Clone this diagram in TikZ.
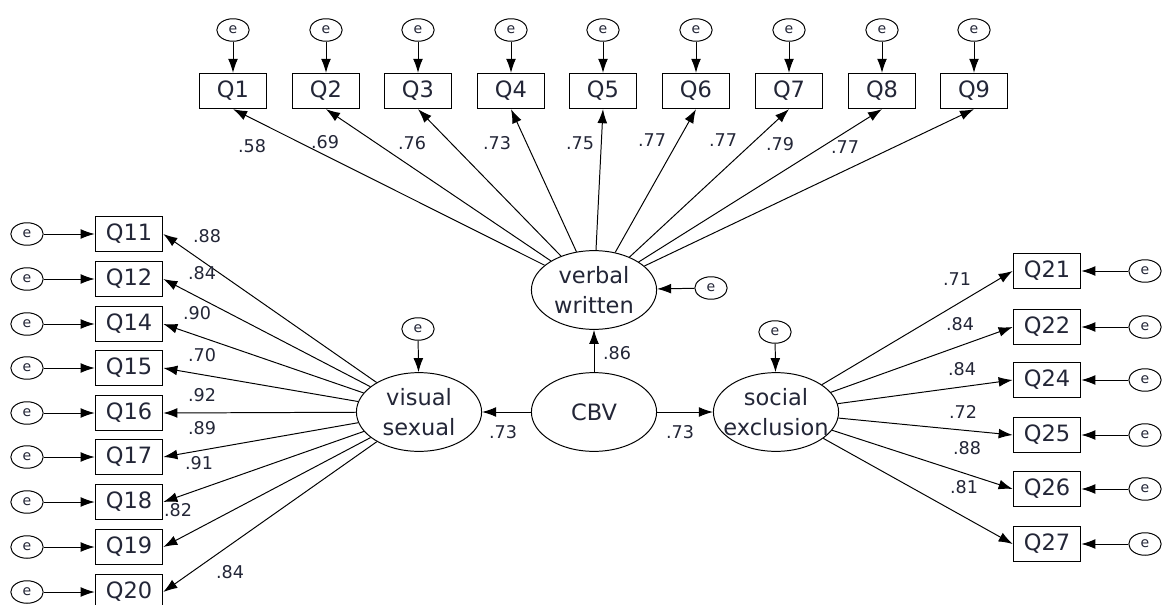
\documentclass[tikz,border=0pt]{standalone}
\usepackage{fontspec}
\setmainfont{DejaVu Sans}
\usetikzlibrary{shapes.geometric, arrows.meta}

\definecolor{txt}{RGB}{35,38,55}
\tikzset{
  item/.style={draw, rectangle, line width=0.8pt, minimum width=48pt, minimum height=25pt, inner sep=0pt, text=txt, font=\fontsize{16}{19}\selectfont},
  err/.style={draw, ellipse, line width=0.7pt, minimum width=23pt, minimum height=16pt, inner sep=0pt, text=txt, font=\fontsize{10}{12}\selectfont},
  factor/.style={draw, ellipse, line width=0.7pt, minimum width=89pt, minimum height=56pt, inner xsep=-20pt, inner ysep=0pt, align=center, text=txt, font=\fontsize{16}{21}\selectfont},
  load/.style={text=txt, inner sep=0pt, font=\fontsize{12.5}{14}\selectfont},
  arr/.style={line width=0.7pt, -{Latex[length=10pt,width=7pt]}}
}

\begin{document}
\begin{tikzpicture}[x=0.025cm, y=-0.025cm]
\useasboundingbox (0,0) rectangle (1162,604);

% factors
\node[factor] (vw) at (594,290) {verbal\\written};
\node[factor] (cbv) at (594,412) {CBV};
\node[factor] (vs) at (419,412) {visual\\sexual};
\node[factor] (se) at (776,412) {social\\exclusion};
\node[err] (evw) at (711,288) {e};
\node[err] (evs) at (418,329) {e};
\node[err] (ese) at (775,332) {e};

\draw[arr] (cbv) -- (vw);
\draw[arr] (cbv) -- (vs);
\draw[arr] (cbv) -- (se);
\draw[arr] (evw) -- (vw);
\draw[arr] (evs) -- (vs);
\draw[arr] (ese) -- (se);
\node[load] (lvw) at (617,353) {.86};
\node[load] (lvs) at (503,432) {.73};
\node[load] (lse) at (680,432) {.73};

% verbal written items
\node[item] (q1) at (233,91) {Q1};
\node[item] (q2) at (326,91) {Q2};
\node[item] (q3) at (418,91) {Q3};
\node[item] (q4) at (511,91) {Q4};
\node[item] (q5) at (603,91) {Q5};
\node[item] (q6) at (696,91) {Q6};
\node[item] (q7) at (789,91) {Q7};
\node[item] (q8) at (882,91) {Q8};
\node[item] (q9) at (974,91) {Q9};
\node[err] (e1) at (233,30) {e};
\node[err] (e2) at (326,30) {e};
\node[err] (e3) at (418,30) {e};
\node[err] (e4) at (511,30) {e};
\node[err] (e5) at (603,30) {e};
\node[err] (e6) at (696,30) {e};
\node[err] (e7) at (789,30) {e};
\node[err] (e8) at (882,30) {e};
\node[err] (e9) at (974,30) {e};
\draw[arr] (e1) -- (q1);
\draw[arr] (e2) -- (q2);
\draw[arr] (e3) -- (q3);
\draw[arr] (e4) -- (q4);
\draw[arr] (e5) -- (q5);
\draw[arr] (e6) -- (q6);
\draw[arr] (e7) -- (q7);
\draw[arr] (e8) -- (q8);
\draw[arr] (e9) -- (q9);
\draw[arr] (vw) -- (q1.south);
\draw[arr] (vw) -- (q2.south);
\draw[arr] (vw) -- (q3.south);
\draw[arr] (vw) -- (q4.south);
\draw[arr] (vw) -- (q5.south);
\draw[arr] (vw) -- (q6.south);
\draw[arr] (vw) -- (q7.south);
\draw[arr] (vw) -- (q8.south);
\draw[arr] (vw) -- (q9.south);
\node[load] (l1) at (252,146) {.58};
\node[load] (l2) at (325,142) {.69};
\node[load] (l3) at (412,143) {.76};
\node[load] (l4) at (497,143) {.73};
\node[load] (l5) at (580,143) {.75};
\node[load] (l6) at (652,140) {.77};
\node[load] (l7) at (723,140) {.77};
\node[load] (l8) at (780,144) {.79};
\node[load] (l9) at (845,147) {.77};

% visual sexual items
\node[item] (q11) at (129,234) {Q11};
\node[item] (q12) at (129,279) {Q12};
\node[item] (q14) at (129,324) {Q14};
\node[item] (q15) at (129,368) {Q15};
\node[item] (q16) at (129,413) {Q16};
\node[item] (q17) at (129,457) {Q17};
\node[item] (q18) at (129,502) {Q18};
\node[item] (q19) at (129,547) {Q19};
\node[item] (q20) at (129,592) {Q20};
\node[err] (e11) at (27,234) {e};
\node[err] (e12) at (27,279) {e};
\node[err] (e14) at (27,324) {e};
\node[err] (e15) at (27,368) {e};
\node[err] (e16) at (27,413) {e};
\node[err] (e17) at (27,457) {e};
\node[err] (e18) at (27,502) {e};
\node[err] (e19) at (27,547) {e};
\node[err] (e20) at (27,592) {e};
\draw[arr] (e11) -- (q11);
\draw[arr] (e12) -- (q12);
\draw[arr] (e14) -- (q14);
\draw[arr] (e15) -- (q15);
\draw[arr] (e16) -- (q16);
\draw[arr] (e17) -- (q17);
\draw[arr] (e18) -- (q18);
\draw[arr] (e19) -- (q19);
\draw[arr] (e20) -- (q20);
\draw[arr] (vs) -- (q11.east);
\draw[arr] (vs) -- (q12.east);
\draw[arr] (vs) -- (q14.east);
\draw[arr] (vs) -- (q15.east);
\draw[arr] (vs) -- (q16.east);
\draw[arr] (vs) -- (q17.east);
\draw[arr] (vs) -- (q18.east);
\draw[arr] (vs) -- (q19.east);
\draw[arr] (vs) -- (q20.east);
\node[load] (l11) at (207,236) {.88};
\node[load] (l12) at (202,273) {.84};
\node[load] (l14) at (197,313) {.90};
\node[load] (l15) at (202,355) {.70};
\node[load] (l16) at (202,395) {.92};
\node[load] (l17) at (202,428) {.89};
\node[load] (l18) at (199,463) {.91};
\node[load] (l19) at (178,510) {.82};
\node[load] (l20) at (230,572) {.84};

% social exclusion items
\node[item] (q21) at (1047,271) {Q21};
\node[item] (q22) at (1047,327) {Q22};
\node[item] (q24) at (1047,380) {Q24};
\node[item] (q25) at (1047,435) {Q25};
\node[item] (q26) at (1047,489) {Q26};
\node[item] (q27) at (1047,544) {Q27};
\node[err] (e21) at (1145,271) {e};
\node[err] (e22) at (1145,327) {e};
\node[err] (e24) at (1145,380) {e};
\node[err] (e25) at (1145,435) {e};
\node[err] (e26) at (1145,489) {e};
\node[err] (e27) at (1145,544) {e};
\draw[arr] (e21) -- (q21);
\draw[arr] (e22) -- (q22);
\draw[arr] (e24) -- (q24);
\draw[arr] (e25) -- (q25);
\draw[arr] (e26) -- (q26);
\draw[arr] (e27) -- (q27);
\draw[arr] (se) -- (q21.west);
\draw[arr] (se) -- (q22.west);
\draw[arr] (se) -- (q24.west);
\draw[arr] (se) -- (q25.west);
\draw[arr] (se) -- (q26.west);
\draw[arr] (se) -- (q27.west);
\node[load] (l21) at (957,279) {.71};
\node[load] (l22) at (960,324) {.84};
\node[load] (l24) at (962,369) {.84};
\node[load] (l25) at (963,412) {.72};
\node[load] (l26) at (967,448) {.88};
\node[load] (l27) at (964,487) {.81};
\end{tikzpicture}
\end{document}
